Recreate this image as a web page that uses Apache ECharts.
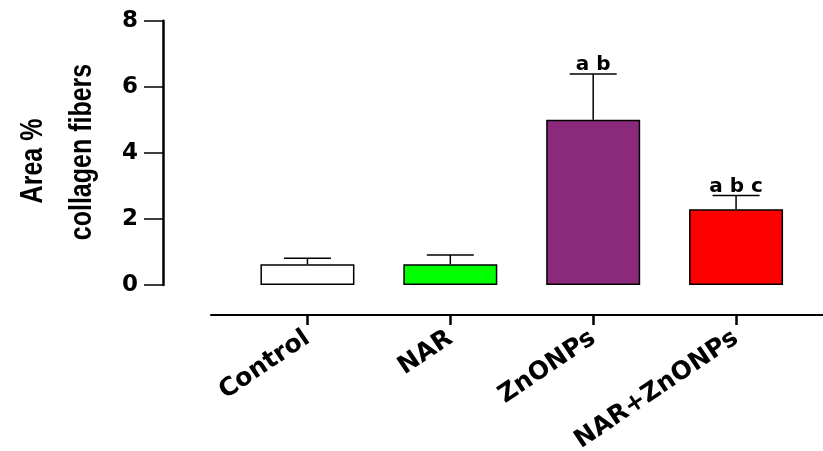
<!DOCTYPE html>
<html><head><meta charset="utf-8">
<script src="https://cdn.jsdelivr.net/npm/echarts@6/dist/echarts.min.js"></script>
<style>html,body{margin:0;padding:0;background:#fff}#c{width:823px;height:451px}</style>
</head><body><div id="c"></div>
<script>
var categories = ['Control', 'NAR', 'ZnONPs', 'NAR+ZnONPs'];
var means = [0.63, 0.63, 5.0, 2.29];
var errorsHigh = [0.81, 0.91, 6.39, 2.71];
var letters = ['', '', 'a b', 'a b c'];
var barColors = ['#ffffff', '#00ff00', '#8b2a7c', '#ff0000'];
var yTicks = [0, 2, 4, 6, 8];
var yTitleLines = ['Area %', 'collagen fibers'];

var chart = echarts.init(document.getElementById('c'), null, {renderer: 'canvas'});
var fontBold = '"DejaVu Sans", "Liberation Sans", sans-serif';

var option = {
  animation: false,
  backgroundColor: '#ffffff',
  grid: [
    {left: 236, right: 15.5, top: 20.7, bottom: 166, outerBoundsMode: 'none', containLabel: false},
    {left: 211, right: 0, top: 20.7, bottom: 136, outerBoundsMode: 'none', containLabel: false},
    {left: 236, right: 15.5, top: 20.7, bottom: 136, outerBoundsMode: 'none', containLabel: false}
  ],
  xAxis: [
    {type: 'category', gridIndex: 0, data: categories, show: false},
    {
      type: 'value', gridIndex: 1, min: 0, max: 1,
      axisLine: {show: true, onZero: false, lineStyle: {color: '#000', width: 2}},
      axisTick: {show: false}, axisLabel: {show: false}, splitLine: {show: false}
    },
    {
      type: 'category', gridIndex: 2, data: categories,
      axisLine: {show: false, onZero: false},
      axisTick: {show: true, alignWithLabel: true, length: 10, lineStyle: {color: '#000', width: 2.5}},
      axisLabel: {rotate: 34, margin: 21, fontSize: 25, fontWeight: 'bold', color: '#000', fontFamily: fontBold, interval: 0}
    }
  ],
  yAxis: [
    {
      type: 'value', gridIndex: 0, min: 0, max: 8, interval: 2, offset: 73,
      axisLine: {show: true, lineStyle: {color: '#000', width: 2.5}},
      axisTick: {show: true, length: 19, lineStyle: {color: '#000', width: 1.5}},
      axisLabel: {fontSize: 23, fontWeight: 'bold', color: '#000', margin: 25, fontFamily: fontBold,
        formatter: function (v) { return yTicks.indexOf(v) >= 0 ? String(v) : ''; }},
      splitLine: {show: false}
    },
    {type: 'value', gridIndex: 1, min: 0, max: 1, show: false},
    {type: 'value', gridIndex: 2, min: 0, max: 1, show: false}
  ],
  graphic: [
    {type: 'text', x: 33.5, y: 161, rotation: Math.PI / 2, scaleY: 1.25, silent: true,
      style: {text: yTitleLines[0], font: 'bold 25px "Liberation Sans", Arial, sans-serif', fill: '#000', align: 'center', verticalAlign: 'middle'}},
    {type: 'text', x: 82.5, y: 152, rotation: Math.PI / 2, scaleY: 1.25, silent: true,
      style: {text: yTitleLines[1], font: 'bold 25px "Liberation Sans", Arial, sans-serif', fill: '#000', align: 'center', verticalAlign: 'middle'}}
  ],
  series: [
    {
      type: 'bar', xAxisIndex: 0, yAxisIndex: 0, barWidth: 94,
      data: means.map(function (v, i) {
        return {value: v, itemStyle: {color: barColors[i], borderColor: '#000', borderWidth: 1.5}};
      }),
      z: 2
    },
    {
      type: 'custom', xAxisIndex: 0, yAxisIndex: 0, z: 3,
      data: categories.map(function (c, i) { return [i, means[i], errorsHigh[i]]; }),
      renderItem: function (params, api) {
        var i = api.value(0);
        var top = api.coord([i, api.value(1)]);
        var hi = api.coord([i, api.value(2)]);
        var half = 23.5;
        var children = [
          {type: 'line', shape: {x1: top[0], y1: top[1], x2: hi[0], y2: hi[1]}, style: {stroke: '#000', lineWidth: 1.5}},
          {type: 'line', shape: {x1: hi[0] - half, y1: hi[1], x2: hi[0] + half, y2: hi[1]}, style: {stroke: '#000', lineWidth: 1.5}}
        ];
        var txt = letters[params.dataIndex];
        if (txt) {
          children.push({type: 'text', x: hi[0], y: hi[1] + 1,
            style: {text: txt, fill: '#000', font: 'bold 20px "DejaVu Sans", sans-serif',
              align: 'center', verticalAlign: 'bottom'}});
        }
        return {type: 'group', children: children};
      }
    }
  ]
};
chart.setOption(option);
</script>
</body></html>
